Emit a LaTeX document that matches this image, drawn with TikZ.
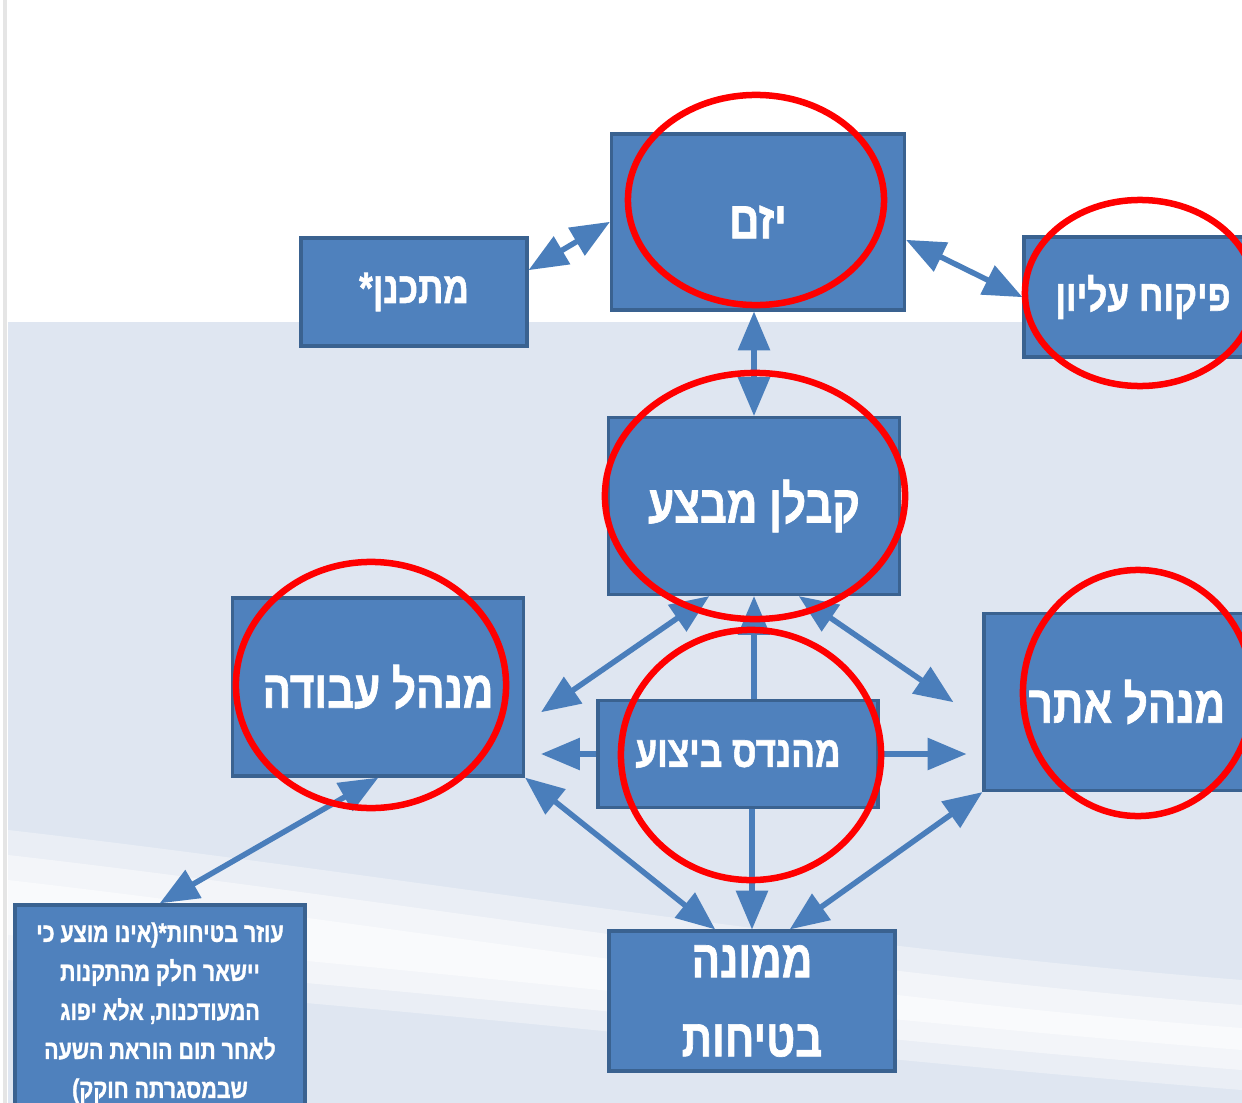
\documentclass[tikz,border=0pt]{standalone}
\usepackage{fontspec}
\newfontfamily\hebfont[Script=Hebrew,FakeStretch=0.8,FakeBold=1.2]{Liberation Sans Bold}
\TeXXeTstate=1
\usepackage{tikz}
\usetikzlibrary{arrows}
\usetikzlibrary{calc}

\definecolor{boxblue}{HTML}{4F81BD}
\definecolor{boxline}{HTML}{3A6290}
\definecolor{arrowblue}{HTML}{4A7EBB}
\definecolor{bgblue}{HTML}{DFE6F1}
\newcommand{\heb}[1]{\beginR #1\endR}

\begin{document}
\begin{tikzpicture}[x=0.01cm, y=-0.01cm,
  role/.style={draw=boxline, fill=boxblue, line width=0.035cm, text=white, align=center, inner sep=0pt,
    font=\hebfont\fontsize{15}{22.5}\selectfont},
  minor/.style={role, font=\hebfont\fontsize{12.5}{15}\selectfont},
  note/.style={role, font=\hebfont\fontsize{7.6}{11.1}\selectfont},
  link/.style={draw=arrowblue, line width=0.055cm, >=triangle 45},
  ring/.style={draw=red, line width=0.065cm}]
\useasboundingbox (0,0) rectangle (1242,1103);
\clip (0,0) rectangle (1242,1103);

% background
\fill[white] (0,0) rectangle (1242,1103);
\fill[bgblue] (8,322) rectangle (1242,1103);
\fill[white, opacity=0.35] (8,830) .. controls (400,875) and (800,945) .. (1242,980) -- (1242,1090) .. controls (800,1055) and (400,1005) .. (8,980) -- cycle;
\fill[white, opacity=0.45] (8,855) .. controls (400,900) and (800,970) .. (1242,1005) -- (1242,1070) .. controls (800,1035) and (400,985) .. (8,960) -- cycle;
\fill[white, opacity=0.5] (8,880) .. controls (400,925) and (800,995) .. (1242,1028) -- (1242,1050) .. controls (800,1015) and (400,965) .. (8,935) -- cycle;
\draw[black!10, line width=0.03cm] (5,0) -- (5,1103);

% boxes
\node[role, minimum width=2.93cm, minimum height=1.76cm] (yazam) at (758,222) {\heb{יזם}};
\node[minor, minimum width=2.26cm, minimum height=1.08cm] (metachnen) at (414,292) {\heb{מתכנן*}};
\node[minor, minimum width=2.38cm, minimum height=1.20cm] (pikuach) at (1143,297) {\heb{פיקוח עליון}};
\node[role, minimum width=2.91cm, minimum height=1.77cm] (kablan) at (754,506) {\heb{קבלן מבצע}};
\node[role, minimum width=2.91cm, minimum height=1.78cm] (avoda) at (378,687) {\heb{מנהל עבודה}};
\node[role, minimum width=2.86cm, minimum height=1.77cm] (atar) at (1127,702) {\heb{מנהל אתר}};
\node[minor, minimum width=2.80cm, minimum height=1.07cm] (mehandes) at (738,754) {\heb{מהנדס ביצוע}};
\node[role, minimum width=2.86cm, minimum height=1.40cm] (memune) at (752,1001) {\heb{ממונה}\\\heb{בטיחות}};
\node[note, minimum width=2.90cm, minimum height=2.16cm] (ozer) at (160,1013)
  {\heb{עוזר בטיחות*(אינו מוצע כי}\\\heb{יישאר חלק מהתקנות}\\\heb{המעודכנות, אלא יפוג}\\\heb{לאחר תום הוראת השעה}\\\heb{שבמסגרתה חוקק)}};

% arrows
\draw[link,<->] ([yshift=0.22cm]metachnen.east) -- (yazam.west);
\draw[link,<->] ([yshift=-0.18cm]yazam.east) -- (pikuach.west);
\draw[link,<->] (yazam.south -| kablan.north) -- (kablan.north);
\draw[link,<->] ([xshift=-0.45cm]kablan.south) -- ([xshift=0.16cm,yshift=-0.25cm]avoda.east);
\draw[link,<->] ([xshift=0.45cm]kablan.south) -- ([xshift=-0.29cm]atar.west);
\draw[link,->] (mehandes.north -| kablan.south) -- (kablan.south);
\draw[link,->] (mehandes.west) -- ([xshift=0.16cm]avoda.east |- mehandes.west);
\draw[link,->] (mehandes.east) -- ([xshift=-0.16cm]atar.west |- mehandes.east);
\draw[link,->] (mehandes.south -| memune.north) -- (memune.north);
\draw[link,<->] (avoda.south east) -- ([xshift=-0.37cm]memune.north);
\draw[link,<->] ([xshift=0.38cm]memune.north) -- (atar.south west);
\draw[link,<->] (avoda.south) -- (ozer.north);

% circles
\draw[ring] (756,200) ellipse [x radius=1.28cm, y radius=1.05cm];
\draw[ring] (1140,293) ellipse [x radius=1.15cm, y radius=0.93cm];
\draw[ring] (755,496) ellipse [x radius=1.50cm, y radius=1.23cm];
\draw[ring] (371,685) ellipse [x radius=1.35cm, y radius=1.23cm];
\draw[ring] (751,755) ellipse [x radius=1.30cm, y radius=1.25cm];
\draw[ring] (1138,693) ellipse [x radius=1.15cm, y radius=1.23cm];
\end{tikzpicture}
\end{document}
